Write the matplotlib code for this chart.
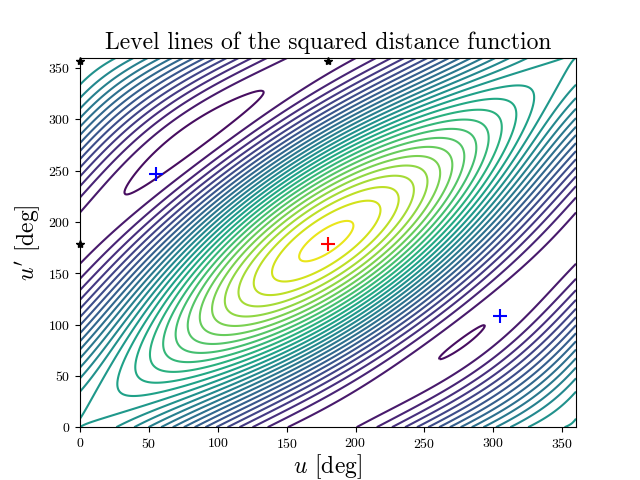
import numpy as np
import matplotlib
matplotlib.use("Agg")
from matplotlib import pyplot as plt

plt.rcParams["font.family"] = "cmr10"
plt.rcParams["mathtext.fontset"] = "cm"
plt.rcParams["axes.formatter.use_mathtext"] = True

# coefficients of the squared distance model
alpha = 0.5
beta = 1.6
gamma = -0.08
n_levels = 30

# critical points (deg)
min_u = [55, 305]
min_up = [247, 108]
max_u = [180]
max_up = [178]
saddle_u = [0, 180, 0]
saddle_up = [178, 357, 357]

u = np.linspace(0, 360, 361)
U, UP = np.meshgrid(u, u)
r = np.radians
D2 = (-alpha * (np.cos(r(U)) + np.cos(r(UP)))
      + beta * np.cos(r(U - UP)) + gamma * np.sin(r(U - UP)))

fig, ax = plt.subplots(figsize=(6.4, 4.8))
ax.contour(U, UP, D2, levels=n_levels, cmap="viridis", linewidths=1.5)
ax.plot(min_u, min_up, "b+", markersize=10, mew=1.5)
ax.plot(max_u, max_up, "r+", markersize=10, mew=1.5)
ax.plot(saddle_u, saddle_up, "k*", markersize=6, clip_on=False)
ax.set_xlim(0, 360)
ax.set_ylim(0, 360)
ax.set_title("Level lines of the squared distance function", fontsize=17)
ax.set_xlabel(r"$u$ [deg]", fontsize=17, labelpad=1)
ax.set_ylabel(r"$u'$ [deg]", fontsize=17)
plt.savefig("out.png", dpi=100)
